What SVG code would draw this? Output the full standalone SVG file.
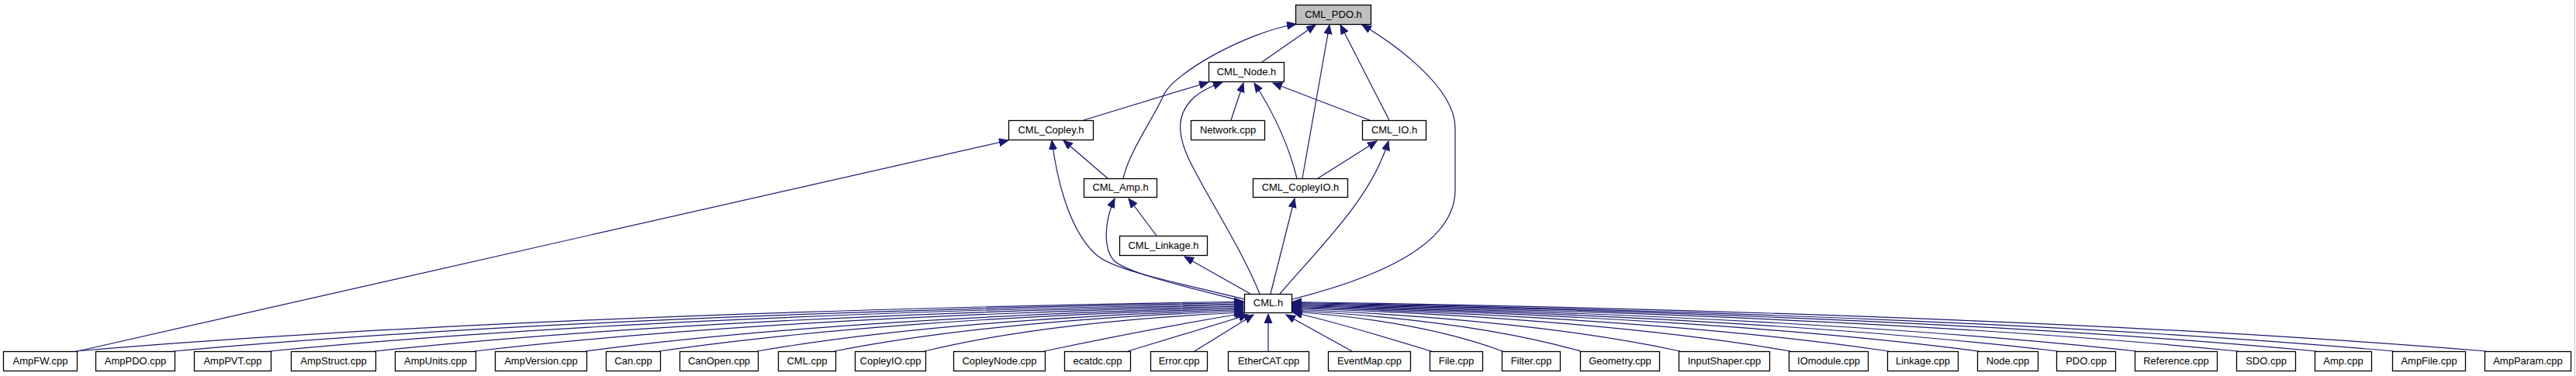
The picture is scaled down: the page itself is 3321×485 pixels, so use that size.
<svg xmlns="http://www.w3.org/2000/svg" width="3321" height="485" viewBox="0 0 3321 485">
<style>
.n rect{fill:#fff;stroke:#000;stroke-width:1.3}
.n text{font-family:"Liberation Sans",Arial,sans-serif;font-size:13px;fill:#000;text-anchor:middle}
#e path{fill:none;stroke:#191970;stroke-width:1.2;marker-end:url(#a)}
</style>
<defs>
<marker id="a" markerUnits="userSpaceOnUse" markerWidth="13" markerHeight="11" refX="12" refY="5" orient="auto">
<path d="M0,0 L12,5 L0,10 z" fill="#191970" stroke="#191970" stroke-width="1"/>
</marker>
</defs>
<rect width="3321" height="485" fill="#fff"/>
<line x1="3319.5" y1="0" x2="3319.5" y2="485" stroke="#c4c4c4" stroke-width="1"/>
<g id="e">
<path d="M1627,80 L1696,32"/>
<path d="M1448,230 C1456,195 1488,151 1500,123 C1512,95 1605,42 1671,31"/>
<path d="M1679,230 L1714,32"/>
<path d="M1791,155 L1728,32"/>
<path d="M1666,386 C1790,355 1876,310 1876,245 L1876,165 C1876,110 1790,52 1756,32"/>
<path d="M1397,155 L1558,106"/>
<path d="M1624,379 C1600,320 1560,260 1535,210 C1515,170 1518,145 1540,125 C1552,115 1565,110 1576,106"/>
<path d="M1587,155 L1603,107"/>
<path d="M1672,230 C1662,190 1645,150 1617,107"/>
<path d="M1766,155 L1641,107"/>
<path d="M1428,230 L1371,181"/>
<path d="M1604,386 C1520,365 1440,350 1415,330 C1385,305 1365,250 1356,181"/>
<path d="M100,453 L1300,181"/>
<path d="M1491,304 L1455,256"/>
<path d="M1604,389 C1530,370 1450,352 1435,335 C1422,318 1424,285 1437,256"/>
<path d="M1612,379 L1527,331"/>
<path d="M1638,379 L1669,256"/>
<path d="M1650,379 C1705,315 1768,255 1790,182"/>
<path d="M1699,230 L1775,182"/>
<path d="M98,453 C474,421 1001,398.6 1603,389"/>
<path d="M224,453 C569,421.75 1051,400 1603,390.5"/>
<path d="M348,453 C662,422.5 1101,401 1603,392"/>
<path d="M483,453 C763,423 1155,402.5 1603,393.5"/>
<path d="M612,453 C860,424 1207,403.7 1603,395"/>
<path d="M755,453 C967,424.75 1264,405 1603,396.5"/>
<path d="M850,453 C1038,425.5 1302,406 1603,398"/>
<path d="M976,453 C1133,426 1352,407.5 1603,399.5"/>
<path d="M1076,453 C1208,427 1392,409 1603,401"/>
<path d="M1192,453 C1295,428 1439,410.5 1603,403"/>
<path d="M1346,453 C1430,435 1520,418 1604,404"/>
<path d="M1454,453 L1609,406"/>
<path d="M1540,453 L1616,406"/>
<path d="M1635,453 L1635,405"/>
<path d="M1743,453 L1658,406"/>
<path d="M1845,453 C1780,433 1720,415 1667,403"/>
<path d="M1937,453 C1869,427.5 1774,409.7 1666,402"/>
<path d="M2038,453 C1945,426.75 1815,408.4 1666,400.5"/>
<path d="M2166,453 C2041,426 1866,407 1666,399"/>
<path d="M2308,453 C2147.5,425.25 1923,405.8 1666,397.5"/>
<path d="M2435,453 C2243,424.75 1974,405 1666,396.5"/>
<path d="M2551,453 C2330,424.25 2020,404 1666,395.5"/>
<path d="M2653,453 C2406,423.75 2061,403.3 1666,394.5"/>
<path d="M2754,453 C2482,423.25 2101,402.4 1666,393.5"/>
<path d="M2885,453 C2580,422.75 2154,401.6 1666,392.5"/>
<path d="M2986,453 C2656,422.25 2194,400.7 1666,391.5"/>
<path d="M3086,453 C2731,421.75 2234,400 1666,390.5"/>
<path d="M3205,453 C2820,421.25 2282,399 1666,389.5"/>
</g>
<g id="n_pdo_h" class="n"><rect x="1670.5" y="6.5" width="97" height="25" style="fill:#bfbfbf"/><text x="1719" y="22.5">CML_PDO.h</text></g>
<g id="n_node_h" class="n"><rect x="1558.5" y="80.5" width="97" height="25"/><text x="1607" y="96.5">CML_Node.h</text></g>
<g id="n_copley_h" class="n"><rect x="1300.5" y="155.5" width="109" height="25"/><text x="1355" y="171.5">CML_Copley.h</text></g>
<g id="n_network_cpp" class="n"><rect x="1535.5" y="155.5" width="95" height="25"/><text x="1583" y="171.5">Network.cpp</text></g>
<g id="n_io_h" class="n"><rect x="1756.5" y="155.5" width="82" height="25"/><text x="1797.5" y="171.5">CML_IO.h</text></g>
<g id="n_amp_h" class="n"><rect x="1397.5" y="230.5" width="94" height="24"/><text x="1444.5" y="246">CML_Amp.h</text></g>
<g id="n_copleyio_h" class="n"><rect x="1615.5" y="230.5" width="122" height="24"/><text x="1676.5" y="246">CML_CopleyIO.h</text></g>
<g id="n_linkage_h" class="n"><rect x="1443.5" y="304.5" width="113" height="25"/><text x="1500" y="320.5">CML_Linkage.h</text></g>
<g id="n_cml_h" class="n"><rect x="1604.5" y="379.5" width="61" height="24"/><text x="1635" y="395">CML.h</text></g>
<g id="b1" class="n"><rect x="4.5" y="453.5" width="95" height="25"/><text x="52" y="469.5">AmpFW.cpp</text></g>
<g id="b2" class="n"><rect x="123.5" y="453.5" width="102" height="25"/><text x="174.5" y="469.5">AmpPDO.cpp</text></g>
<g id="b3" class="n"><rect x="250.5" y="453.5" width="99" height="25"/><text x="300" y="469.5">AmpPVT.cpp</text></g>
<g id="b4" class="n"><rect x="375.5" y="453.5" width="109" height="25"/><text x="430" y="469.5">AmpStruct.cpp</text></g>
<g id="b5" class="n"><rect x="509.5" y="453.5" width="104" height="25"/><text x="561.5" y="469.5">AmpUnits.cpp</text></g>
<g id="b6" class="n"><rect x="638.5" y="453.5" width="118" height="25"/><text x="697.5" y="469.5">AmpVersion.cpp</text></g>
<g id="b7" class="n"><rect x="781.5" y="453.5" width="70" height="25"/><text x="816.5" y="469.5">Can.cpp</text></g>
<g id="b8" class="n"><rect x="876.5" y="453.5" width="101" height="25"/><text x="927" y="469.5">CanOpen.cpp</text></g>
<g id="b9" class="n"><rect x="1003.5" y="453.5" width="74" height="25"/><text x="1040.5" y="469.5">CML.cpp</text></g>
<g id="b10" class="n"><rect x="1102.5" y="453.5" width="91" height="25"/><text x="1148" y="469.5">CopleyIO.cpp</text></g>
<g id="b11" class="n"><rect x="1229.5" y="453.5" width="118" height="25"/><text x="1288.5" y="469.5">CopleyNode.cpp</text></g>
<g id="b12" class="n"><rect x="1372.5" y="453.5" width="85" height="25"/><text x="1415" y="469.5">ecatdc.cpp</text></g>
<g id="b13" class="n"><rect x="1483.5" y="453.5" width="73" height="25"/><text x="1520" y="469.5">Error.cpp</text></g>
<g id="b14" class="n"><rect x="1583.5" y="453.5" width="104" height="25"/><text x="1635.5" y="469.5">EtherCAT.cpp</text></g>
<g id="b15" class="n"><rect x="1712.5" y="453.5" width="106" height="25"/><text x="1765.5" y="469.5">EventMap.cpp</text></g>
<g id="b16" class="n"><rect x="1843.5" y="453.5" width="68" height="25"/><text x="1877.5" y="469.5">File.cpp</text></g>
<g id="b17" class="n"><rect x="1936.5" y="453.5" width="75" height="25"/><text x="1974" y="469.5">Filter.cpp</text></g>
<g id="b18" class="n"><rect x="2037.5" y="453.5" width="102" height="25"/><text x="2088.5" y="469.5">Geometry.cpp</text></g>
<g id="b19" class="n"><rect x="2164.5" y="453.5" width="117" height="25"/><text x="2223" y="469.5">InputShaper.cpp</text></g>
<g id="b20" class="n"><rect x="2306.5" y="453.5" width="102" height="25"/><text x="2357.5" y="469.5">IOmodule.cpp</text></g>
<g id="b21" class="n"><rect x="2433.5" y="453.5" width="91" height="25"/><text x="2479" y="469.5">Linkage.cpp</text></g>
<g id="b22" class="n"><rect x="2549.5" y="453.5" width="78" height="25"/><text x="2588.5" y="469.5">Node.cpp</text></g>
<g id="b23" class="n"><rect x="2651.5" y="453.5" width="76" height="25"/><text x="2689.5" y="469.5">PDO.cpp</text></g>
<g id="b24" class="n"><rect x="2752.5" y="453.5" width="106" height="25"/><text x="2805.5" y="469.5">Reference.cpp</text></g>
<g id="b25" class="n"><rect x="2883.5" y="453.5" width="76" height="25"/><text x="2921.5" y="469.5">SDO.cpp</text></g>
<g id="b26" class="n"><rect x="2984.5" y="453.5" width="73" height="25"/><text x="3021" y="469.5">Amp.cpp</text></g>
<g id="b27" class="n"><rect x="3084.5" y="453.5" width="94" height="25"/><text x="3131.5" y="469.5">AmpFile.cpp</text></g>
<g id="b28" class="n"><rect x="3203.5" y="453.5" width="111" height="25"/><text x="3259" y="469.5">AmpParam.cpp</text></g>
</svg>
